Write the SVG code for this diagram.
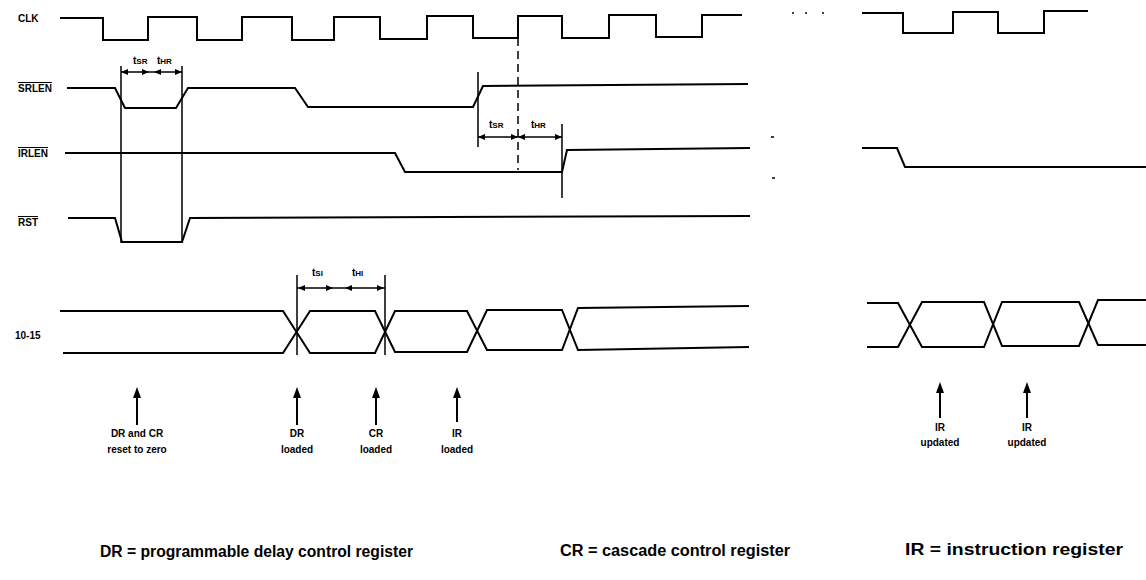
<svg xmlns="http://www.w3.org/2000/svg" width="1146" height="580" viewBox="0 0 1146 580">
<style>
.w{fill:none;stroke:#000;stroke-width:2;stroke-linejoin:miter}
.v{fill:none;stroke:#000;stroke-width:1.5}
.d{fill:none;stroke:#000;stroke-width:1.5;stroke-dasharray:8 5}
.lbl{font-family:"Liberation Sans",Arial,sans-serif;font-weight:bold;font-size:10px;fill:#000}
.ov{text-decoration:overline}
.t{font-family:"Liberation Sans",Arial,sans-serif;font-weight:bold;font-size:10px;fill:#000}
.s{font-size:8px}
.ann{font-family:"Liberation Sans",Arial,sans-serif;font-weight:bold;font-size:10px;fill:#000;text-anchor:middle}
.leg{font-family:"Liberation Sans",Arial,sans-serif;font-weight:bold;font-size:16px;fill:#000}
</style>
<defs>
<path id="up" d="M0,0 L-4,11 L4,11 Z"/>
<path id="al" d="M0,0 L7,-3 L7,3 Z"/>
<path id="ar" d="M0,0 L-7,-3 L-7,3 Z"/>
</defs>
<rect width="1146" height="580" fill="#fff"/>

<g id="clk">
<text class="lbl" x="18" y="22">CLK</text>
<path class="w" d="M60,18 H103 V40 H148 V17 H197 V40 H242 V17 H292 V40 H334 V17 H380 V39 H427 V16 H473 V38 H518 V16 H562 V38 H609 V15 H656 V37 H702 V15 H742"/>
<path class="w" d="M862,13 H903 V33 H953 V12 H998 V33 H1044 V11 H1088"/>
<g fill="#000"><circle cx="793" cy="13" r="1"/><circle cx="806" cy="13" r="1"/><circle cx="823" cy="13" r="1"/></g>
</g>

<g id="srlen">
<text class="lbl ov" x="18" y="92">SRLEN</text>
<path class="w" d="M67,88 H115 L125,108 H176 L188,88 H295 L308,107 H473 L483,86 L748,84"/>
</g>

<g id="irlen">
<text class="lbl ov" x="18" y="157">IRLEN</text>
<path class="w" d="M65,153 H395 L405,172 H562 L567,150 L750,148"/>
<path class="w" d="M862,148 H897 L905,167 H1146"/>
</g>

<g id="rst">
<text class="lbl ov" x="18" y="226">RST</text>
<path class="w" d="M68,218 H115 L122,242 H182 L190,218 L750,216"/>
</g>

<g id="io">
<text class="lbl" x="15" y="339">10-15</text>
<path class="w" d="M60,311 H283 L310,353 H375 L395,311 H467 L487,350 H562 L578,308 L749,306"/>
<path class="w" d="M63,353 H283 L310,311 H375 L395,352 H467 L487,310 H562 L578,350 L749,347"/>
<path class="w" d="M867,303 H898 L922,347 H984 L1002,302 H1079 L1098,345 H1146"/>
<path class="w" d="M867,347 H898 L922,302 H984 L1002,346 H1079 L1098,300 H1146"/>
</g>

<g id="timing">
<text class="t" x="133" y="64">t<tspan class="s">SR</tspan></text>
<text class="t" x="157" y="64">t<tspan class="s">HR</tspan></text>
<text class="t" x="489" y="128">t<tspan class="s">SR</tspan></text>
<text class="t" x="531" y="128">t<tspan class="s">HR</tspan></text>
<text class="t" x="312" y="276">t<tspan class="s">SI</tspan></text>
<text class="t" x="352" y="276">t<tspan class="s">HI</tspan></text>
</g>

<g id="connectors">
<path class="v" d="M121,66 V243 M182,66 V243"/>
<path class="v" d="M121,72 H182"/>
<use href="#al" x="121" y="72"/><use href="#ar" x="149" y="72"/><use href="#al" x="154" y="72"/><use href="#ar" x="182" y="72"/>
<path class="v" d="M478,72 V147 M562,124 V198"/>
<path class="d" d="M518,38 V170"/>
<path class="v" d="M478,137 H562"/>
<use href="#al" x="478" y="137"/><use href="#ar" x="518" y="137"/><use href="#al" x="518" y="137"/><use href="#ar" x="562" y="137"/>
<path class="v" d="M297,275 V355 M385,275 V355"/>
<path class="v" d="M297,288 H385"/>
<use href="#al" x="298" y="288"/><use href="#ar" x="333" y="288"/><use href="#al" x="345" y="288"/><use href="#ar" x="384" y="288"/>
<path class="v" d="M771,137 H774 M772,178 H775"/>

<path class="w" d="M137,425 V395"/><use href="#up" x="137" y="387"/>
<path class="w" d="M297,425 V395"/><use href="#up" x="297" y="387"/>
<path class="w" d="M376,425 V395"/><use href="#up" x="376" y="387"/>
<path class="w" d="M457,422 V395"/><use href="#up" x="457" y="387"/>
<path class="w" d="M940,418 V390"/><use href="#up" x="940" y="382"/>
<path class="w" d="M1027,418 V390"/><use href="#up" x="1027" y="382"/>
</g>

<g id="annotations">
<text class="ann" x="137" y="437">DR and CR</text>
<text class="ann" x="137" y="453">reset to zero</text>
<text class="ann" x="297" y="437">DR</text>
<text class="ann" x="297" y="453">loaded</text>
<text class="ann" x="376" y="437">CR</text>
<text class="ann" x="376" y="453">loaded</text>
<text class="ann" x="457" y="437">IR</text>
<text class="ann" x="457" y="453">loaded</text>
<text class="ann" x="940" y="431">IR</text>
<text class="ann" x="940" y="446">updated</text>
<text class="ann" x="1027" y="431">IR</text>
<text class="ann" x="1027" y="446">updated</text>
</g>

<g id="legend">
<text class="leg" x="100" y="557" textLength="313" lengthAdjust="spacingAndGlyphs">DR = programmable delay control register</text>
<text class="leg" x="560" y="556" textLength="230" lengthAdjust="spacingAndGlyphs">CR = cascade control register</text>
<text class="leg" x="905" y="555" textLength="218" lengthAdjust="spacingAndGlyphs">IR = instruction register</text>
</g>
</svg>
